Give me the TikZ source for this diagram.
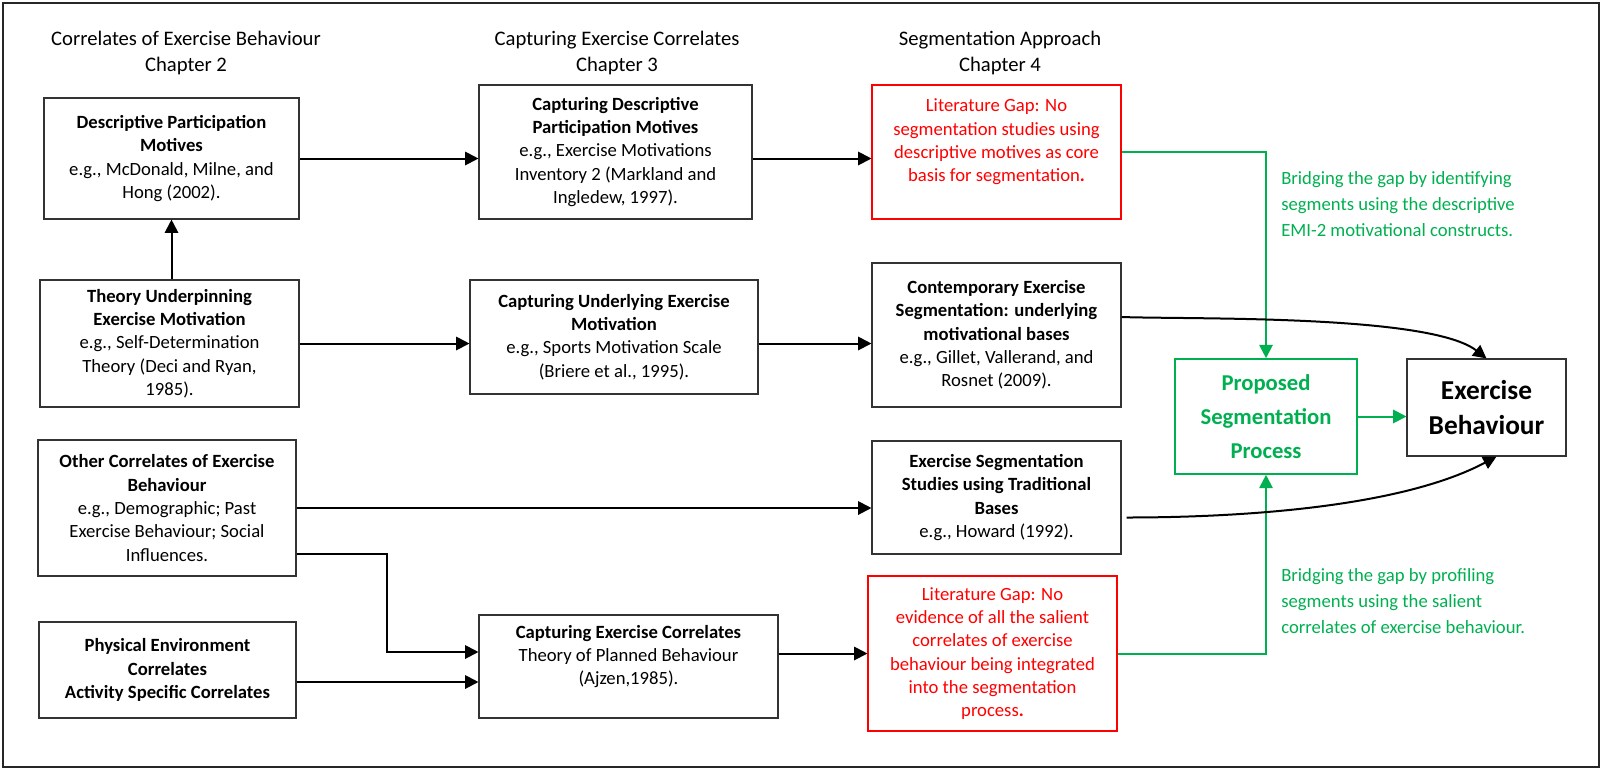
\documentclass[tikz,border=0pt]{standalone}
\usepackage{fontspec}
\setmainfont{Carlito}
\usetikzlibrary{arrows.meta, positioning, calc}
\definecolor{segGreen}{RGB}{0,176,80}
\definecolor{gapRed}{RGB}{255,0,0}
\newcommand{\boxfont}{\fontsize{14}{17.5}\selectfont}
\newcommand{\headfont}{\fontsize{15.5}{19.5}\selectfont}
\tikzset{
    box/.style={draw=black!80, line width=0.8pt, align=center, inner sep=2pt, font=\boxfont},
    gapbox/.style={box, draw=gapRed, text=gapRed},
    head/.style={align=center, inner sep=0pt, font=\headfont},
    note/.style={align=left, anchor=west, inner sep=0pt, text=segGreen, font=\fontsize{14}{19.5}\selectfont},
    arr/.style={-{Triangle[length=10pt,width=10pt]}, line width=1.5pt},
    garr/.style={arr, draw=segGreen, color=segGreen}
}
\begin{document}
\begin{tikzpicture}[x=0.75pt, y=0.75pt]
    \def \u {0.75pt}
    \useasboundingbox (0,0) rectangle (1601,-768);
    \draw[line width=1pt, black!85] (3,-3) rectangle (1599,-767);
    % column headings
    \node[head] (hdA) at (186,-53) {Correlates of Exercise Behaviour\\Chapter 2};
    \node[head] (hdB) at (617,-53) {Capturing Exercise Correlates\\Chapter 3};
    \node[head] (hdC) at (1000,-53) {Segmentation Approach\\Chapter 4};
    % chapter 2
    \node[box, minimum width=255*\u, minimum height=121*\u] (desc) at (171.5,-158.5)
        {\textbf{Descriptive Participation}\\\textbf{Motives}\\e.g., McDonald, Milne, and\\Hong (2002).};
    \node[box, minimum width=259*\u, minimum height=127*\u] (theory) at (169.5,-343.5)
        {\textbf{Theory Underpinning}\\\textbf{Exercise Motivation}\\e.g., Self-Determination\\Theory (Deci and Ryan,\\1985).};
    \node[box, minimum width=258*\u, minimum height=136*\u] (other) at (167,-508)
        {\textbf{Other Correlates of Exercise}\\\textbf{Behaviour}\\e.g., Demographic; Past\\Exercise Behaviour; Social\\Influences.};
    \node[box, minimum width=257*\u, minimum height=96*\u] (phys) at (167.5,-670)
        {\textbf{Physical Environment}\\\textbf{Correlates}\\\textbf{Activity Specific Correlates}};
    % chapter 3
    \node[box, minimum width=273*\u, minimum height=134*\u] (capdesc) at (615.5,-152)
        {\textbf{Capturing Descriptive}\\\textbf{Participation Motives}\\e.g., Exercise Motivations\\Inventory 2 (Markland and\\Ingledew, 1997).};
    \node[box, minimum width=288*\u, minimum height=114*\u] (capund) at (614,-337)
        {\textbf{Capturing Underlying Exercise}\\\textbf{Motivation}\\e.g., Sports Motivation Scale\\(Briere et al., 1995).};
    \node[box, minimum width=299*\u, minimum height=103*\u] (capcorr) at (628.5,-666.5)
        {\textbf{Capturing Exercise Correlates}\\Theory of Planned Behaviour\\(Ajzen,1985).\\\mbox{}};
    % chapter 4
    \node[gapbox, minimum width=249*\u, minimum height=134*\u] (gap1) at (996.5,-152)
        {Literature Gap: No\\segmentation studies using\\descriptive motives as core\\basis for segmentation\textbf{.}\\\mbox{}};
    \node[box, minimum width=249*\u, minimum height=144*\u] (contemp) at (996.5,-335)
        {\textbf{Contemporary Exercise}\\\textbf{Segmentation: underlying}\\\textbf{motivational bases}\\e.g., Gillet, Vallerand, and\\Rosnet (2009).};
    \node[box, minimum width=249*\u, minimum height=113*\u] (segstud) at (996.5,-497.5)
        {\textbf{Exercise Segmentation}\\\textbf{Studies using Traditional}\\\textbf{Bases}\\e.g., Howard (1992).};
    \node[gapbox, minimum width=249*\u, minimum height=155*\u] (gap2) at (992.5,-653.5)
        {Literature Gap: No\\evidence of all the salient\\correlates of exercise\\behaviour being integrated\\into the segmentation\\process\textbf{.}};
    % outcome
    \node[box, draw=segGreen, line width=1.2pt, text=segGreen, font=\fontsize{17}{25.5}\selectfont\bfseries,
        minimum width=182*\u, minimum height=115*\u] (proposed) at (1266,-416.5)
        {Proposed\\Segmentation\\Process};
    \node[box, font=\fontsize{20.5}{26}\selectfont\bfseries,
        minimum width=159*\u, minimum height=97*\u] (exbeh) at (1486.5,-407.5)
        {Exercise\\Behaviour};
    \node[note] (noteA) at (1281,-204)
        {Bridging the gap by identifying\\segments using the descriptive\\EMI-2 motivational constructs.};
    \node[note] (noteB) at (1281,-601)
        {Bridging the gap by profiling\\segments using the salient\\correlates of exercise behaviour.};
    % connectors
    \coordinate (elb) at (387,-652);
    \draw[arr] (theory.north -| desc.south) -- (desc.south);
    \draw[arr] (desc.east) -- (desc.east -| capdesc.west);
    \draw[arr] (capdesc.east |- desc.east) -- (gap1.west |- desc.east);
    \draw[arr] (theory.east) -- (theory.east -| capund.west);
    \draw[arr] (capund.east |- theory.east) -- (contemp.west |- theory.east);
    \draw[arr] (other.east) -- (other.east -| segstud.west);
    \draw[arr] (other.east |- 0,-554) -| (elb) -- (elb -| capcorr.west);
    \draw[arr] (phys.east |- 0,-682) -- (capcorr.west |- 0,-682);
    \draw[arr] (capcorr.east |- gap2.west) -- (gap2.west);
    \draw[garr] (gap1.east) -| (proposed.north);
    \draw[garr] (gap2.east) -| (proposed.south);
    \draw[garr] (proposed.east) -- (proposed.east -| exbeh.west);
    \draw[arr] ([yshift=18*\u]contemp.east) to[out=-2, in=142, looseness=0.5] (exbeh.north);
    \draw[arr] ([xshift=5*\u, yshift=-20*\u]segstud.east) to[out=0, in=-152, looseness=0.75] ([xshift=10*\u]exbeh.south);
\end{tikzpicture}
\end{document}
